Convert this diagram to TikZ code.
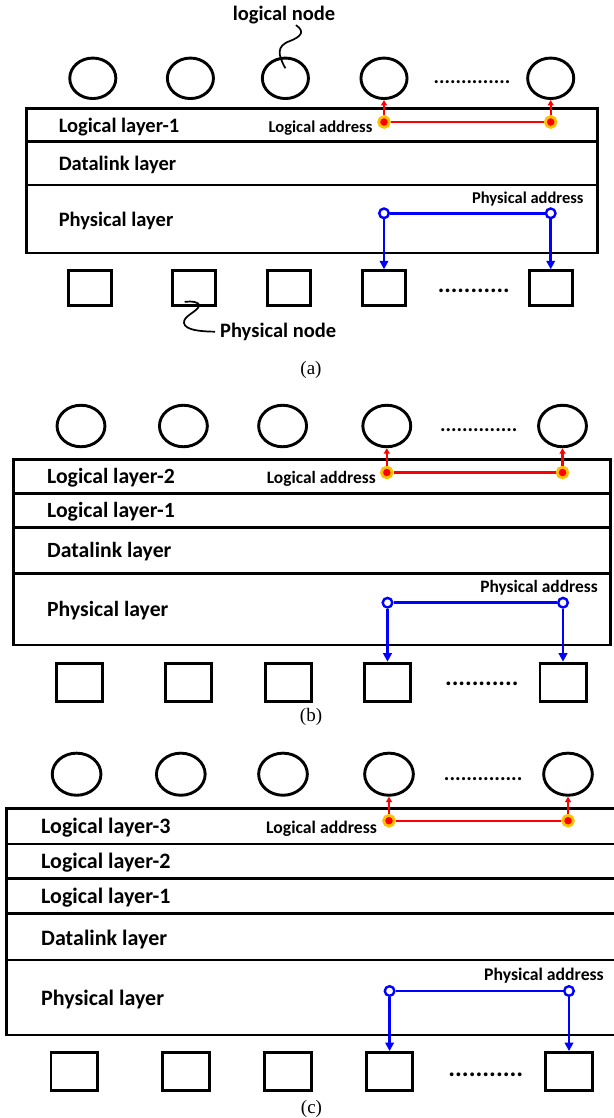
\documentclass[tikz,border=0pt]{standalone}
\usepackage{fontspec}
\setmainfont{Liberation Serif}
\newfontfamily\carl{Carlito}
\usetikzlibrary{shapes.geometric,arrows.meta,calc}
\definecolor{halo}{RGB}{255,192,0}
\definecolor{pblue}{RGB}{0,0,255}
\definecolor{lred}{RGB}{255,0,0}
\tikzset{
  lnode/.style={draw, ellipse, line width=2.9pt, inner sep=0pt},
  pnode/.style={draw, rectangle, line width=2.9pt, inner sep=0pt},
  band/.style={draw, line width=2.9pt},
  lbl/.style={anchor=west, inner sep=0pt, font=\carl\bfseries\fontsize{#1}{#1}\selectfont},
  txt/.style={inner sep=0pt, font=\carl\bfseries\fontsize{#1}{#1}\selectfont},
  ldot/.style={circle, fill=lred, draw=halo, line width=2.8pt, minimum size=10.8pt, inner sep=0pt},
  pdot/.style={circle, fill=white, draw=pblue, line width=2.4pt, minimum size=9.6pt, inner sep=0pt},
  lline/.style={draw=lred, line width=2.1pt},
  larrow/.style={lline, -{Triangle[width=6pt,length=5.5pt]}},
  pline/.style={draw=pblue, line width=2.7pt},
  parrow/.style={pline, -{Triangle[width=8.5pt,length=8.5pt]}},
  captxt/.style={inner sep=0pt, font=\fontsize{19}{19}\selectfont},
  wavy/.style={draw, line width=1.7pt}
}
\begin{document}
\begin{tikzpicture}[x=1pt,y=-1pt]
\useasboundingbox (0,0) rectangle (613,1118);

% ================= panel (a) =================
\draw[band] (26.7,108.5) rectangle (597.3,141.5);
\draw[band] (26.7,141.5) rectangle (597.3,185);
\draw[band] (26.7,185) rectangle (597.3,253);
\node[lbl=20.5] (aL1) at (58.6,126.7) {Logical layer-1};
\node[lbl=20.5] (aDL) at (58.6,165) {Datalink layer};
\node[lbl=20.5] (aPL) at (58.6,220.7) {Physical layer};

\foreach \n/\x in {1/92.8,2/190.4,3/285.4,4/384,5/550.7}
  \node[lnode, minimum width=46.1pt, minimum height=40.5pt] (a\n) at (\x,78.3) {};
\foreach \n/\x in {1/89.7,2/193.7,3/289,4/384,5/550.7}
  \node[pnode, minimum width=43.1pt, minimum height=35.1pt] (as\n) at (\x,288.3) {};
\node[txt=20.5] (atd) at (472,82) {..............};
\node[txt=24.5] (abd) at (473.8,291) {...........};

\node[txt=20.5] (aln) at (284,15) {logical node};
\draw[wavy] ($(aln.south)+(12,1)$) .. controls (306,32) and (300,37) .. (290,41)
  .. controls (276,46) and (278,55) .. ($(a3.center)+(0,-10)$);
\node[lbl=20.5] (apn) at (220,331.7) {Physical node};
\draw[wavy] ($(as2.center)+(-9,13.5)$) .. controls (192,301) and (200,302) .. (199,306)
  .. controls (197,312) and (183,316) .. (184,323)
  .. controls (185,330) and (200,331.5) .. ($(apn.west)+(-5,0)$);

\node[txt=16.6] (ala) at (320.5,128.3) {Logical address};
\node[ldot] (ad1) at (384,122) {};
\node[ldot] (ad2) at (550.7,122) {};
\draw[lline] (ad1) -- (ad2);
\draw[larrow] (ad1) -- (ad1 |- a4.south);
\draw[larrow] (ad2) -- (ad2 |- a5.south);

\node[txt=16.5] (apa) at (527.8,199) {Physical address};
\node[pdot] (ap1) at (384,213.3) {};
\node[pdot] (ap2) at (550.7,213.3) {};
\draw[pline] (ap1) -- (ap2);
\draw[parrow] (ap1) -- (ap1 |- as4.north);
\draw[parrow] (ap2) -- (ap2 |- as5.north);
\node[captxt] (capa) at (311,370) {(a)};

% ================= panel (b) =================
\draw[band] (13.5,459.5) rectangle (610.7,493.3);
\draw[band] (13.5,493.3) rectangle (610.7,527.3);
\draw[band] (13.5,527.3) rectangle (610.7,573.8);
\draw[band] (13.5,573.8) rectangle (610.7,645);
\node[lbl=21.7] (bL2) at (47,477.7) {Logical layer-2};
\node[lbl=21.7] (bL1) at (47,511.7) {Logical layer-1};
\node[lbl=21.7] (bDL) at (47,551.7) {Datalink layer};
\node[lbl=21.7] (bPL) at (47,611) {Physical layer};

\foreach \n/\x in {1/81,2/183.4,3/282.6,4/386.8,5/562.5}
  \node[lnode, minimum width=47.9pt, minimum height=41.5pt] (b\n) at (\x,426) {};
\foreach \n/\x in {1/79.2,2/188.6,3/288.3,4/387.5,5/563}
  \node[pnode, minimum width=46.1pt, minimum height=38.1pt] (bs\n) at (\x,682.2) {};
\node[txt=20.7] (btd) at (478.7,430) {..............};
\node[txt=25] (bbd) at (481.8,684.3) {...........};

\node[txt=17.4] (bla) at (321.3,479) {Logical address};
\node[ldot] (bd1) at (386.8,472.5) {};
\node[ldot] (bd2) at (562.5,472.5) {};
\draw[lline] (bd1) -- (bd2);
\draw[larrow] (bd1) -- (bd1 |- b4.south);
\draw[larrow] (bd2) -- (bd2 |- b5.south);

\node[txt=17.4] (bpa) at (539,588) {Physical address};
\node[pdot] (bp1) at (387.5,602.7) {};
\node[pdot] (bp2) at (563,602.7) {};
\draw[pline] (bp1) -- (bp2);
\draw[parrow] (bp1) -- (bp1 |- bs4.north);
\draw[parrow] (bp2) -- (bp2 |- bs5.north);
\node[captxt] (capb) at (311,717) {(b)};

% ================= panel (c) =================
\draw[band] (6.7,808.5) rectangle (620,844);
\draw[band] (6.7,844) rectangle (620,878.5);
\draw[band] (6.7,878.5) rectangle (620,913.3);
\draw[band] (6.7,913.3) rectangle (620,960);
\draw[band] (6.7,960) rectangle (620,1035);
\node[lbl=22] (cL3) at (41,827.3) {Logical layer-3};
\node[lbl=22] (cL2) at (41,862.7) {Logical layer-2};
\node[lbl=22] (cL1) at (41,897.3) {Logical layer-1};
\node[lbl=22] (cDL) at (41,939.3) {Datalink layer};
\node[lbl=22] (cPL) at (41,999.3) {Physical layer};

\foreach \n/\x in {1/76.6,2/180.8,3/283,4/389,5/568}
  \node[lnode, minimum width=48.7pt, minimum height=42.1pt] (c\n) at (\x,774.2) {};
\foreach \n/\x in {1/74.3,2/186,3/288,4/389.6,5/569}
  \node[pnode, minimum width=46.6pt, minimum height=38.4pt] (cs\n) at (\x,1071.7) {};
\node[txt=21] (ctd) at (483.2,779) {..............};
\node[txt=25.5] (cbd) at (485.8,1074.3) {...........};

\node[txt=17.7] (cla) at (321.5,829) {Logical address};
\node[ldot] (cd1) at (389,820.7) {};
\node[ldot] (cd2) at (568,820.7) {};
\draw[lline] (cd1) -- (cd2);
\draw[larrow] (cd1) -- (cd1 |- c4.south);
\draw[larrow] (cd2) -- (cd2 |- c5.south);

\node[txt=17.7] (cpa) at (544,975.7) {Physical address};
\node[pdot] (cp1) at (389.6,991) {};
\node[pdot] (cp2) at (569,991) {};
\draw[pline] (cp1) -- (cp2);
\draw[parrow] (cp1) -- (cp1 |- cs4.north);
\draw[parrow] (cp2) -- (cp2 |- cs5.north);
\node[captxt] (capc) at (311.5,1108.5) {(c)};
\end{tikzpicture}
\end{document}
